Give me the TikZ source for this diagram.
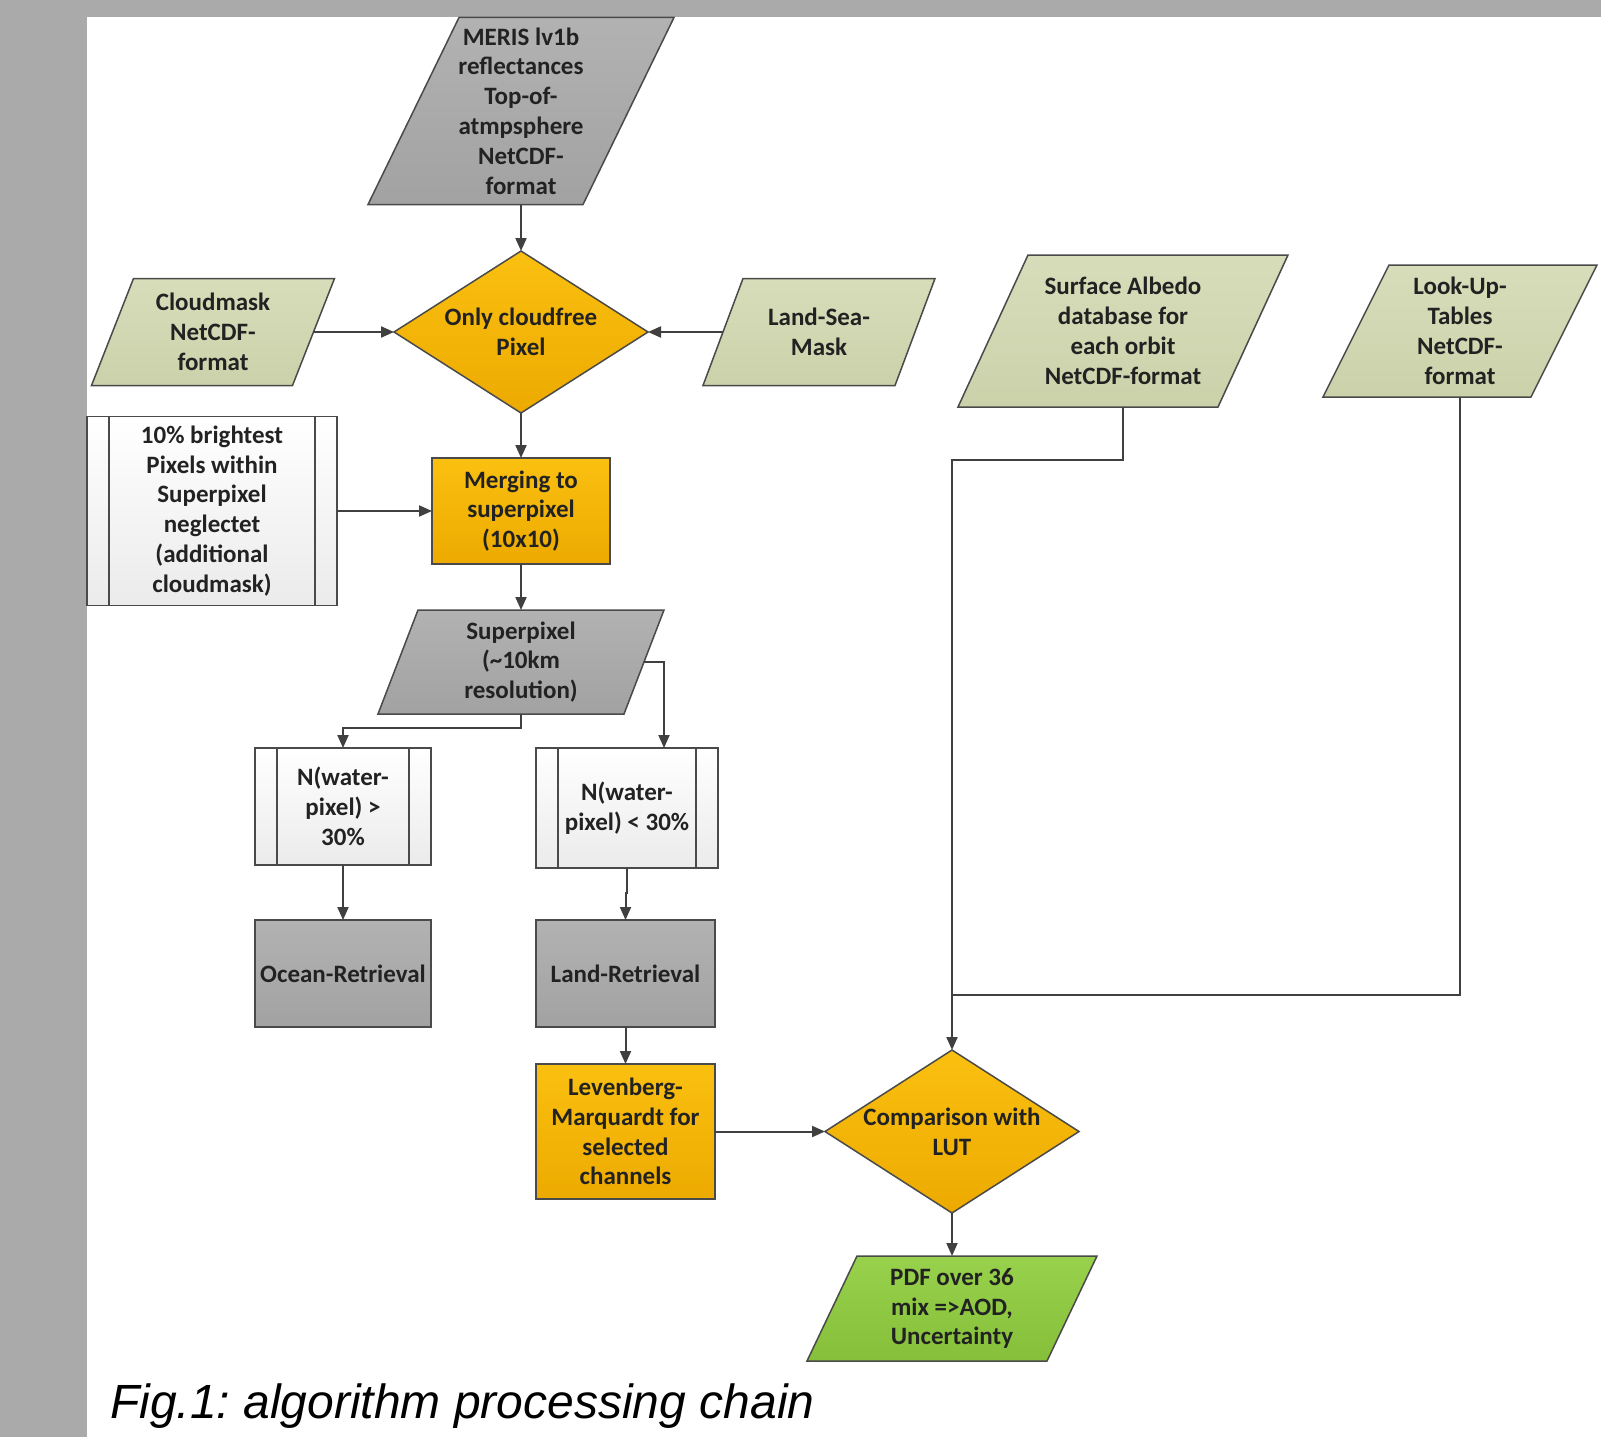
\documentclass[tikz,border=0pt]{standalone}
\usepackage{fontspec}
\setmainfont{Carlito}
\newfontfamily\capfont{Liberation Sans}
\usetikzlibrary{arrows.meta}
\frenchspacing
\pgfdeclarelayer{panel}
\pgfdeclarelayer{shapes}
\pgfsetlayers{panel,shapes,main}
\definecolor{bggray}{HTML}{AAAAAA}
\definecolor{lineg}{HTML}{404040}
\definecolor{edgeg}{HTML}{4A4A4A}
\definecolor{txtc}{HTML}{222222}
\definecolor{grayT}{HTML}{B2B2B2}
\definecolor{grayB}{HTML}{A2A2A2}
\definecolor{oliveT}{HTML}{D7DDBA}
\definecolor{oliveB}{HTML}{CBD2AA}
\definecolor{orangeT}{HTML}{FAC010}
\definecolor{orangeB}{HTML}{EDAA00}
\definecolor{greenT}{HTML}{98D14C}
\definecolor{greenB}{HTML}{86C03A}
\definecolor{whiteB}{HTML}{EBEBEB}
\tikzset{
  lbl/.style={font=\bfseries\fontsize{25}{29.8}\selectfont, text=txtc, align=center, inner sep=0pt, outer sep=0pt},
  sz/.style 2 args={minimum width=#1pt, minimum height=#2pt},
  bord/.style={draw=edgeg, line width=1.5pt},
  grayfill/.style={top color=grayT, bottom color=grayB},
  olivefill/.style={top color=oliveT, bottom color=oliveB},
  orangefill/.style={top color=orangeT, bottom color=orangeB},
  greenfill/.style={top color=greenT, bottom color=greenB},
  whitefill/.style={top color=white, bottom color=whiteB},
  rectbox/.style={bord},
  conn/.style={draw=lineg, line width=2pt, -{Triangle[length=13pt,width=11pt]}},
  plainconn/.style={draw=lineg, line width=2pt},
}
\newcommand\paragram[3]{\path[#3] ([xshift=-#2pt]#1.south west) -- ([xshift=-#2pt]#1.south east) -- ([xshift=#2pt]#1.north east) -- ([xshift=#2pt]#1.north west) -- cycle;}
\newcommand\diamondshape[2]{\path[#2] (#1.north) -- (#1.east) -- (#1.south) -- (#1.west) -- cycle;}
\newcommand\predef[2]{\path[#2] (#1.south west) rectangle (#1.north east);
  \draw[bord] ([xshift=22pt]#1.south west) -- ([xshift=22pt]#1.north west);
  \draw[bord] ([xshift=-22pt]#1.south east) -- ([xshift=-22pt]#1.north east);}
\begin{document}
\begin{tikzpicture}[x=1pt,y=-1pt]
\begin{pgfonlayer}{panel}
\fill[bggray] (0,0) rectangle (1601,1437);
\fill[white] (87,17) rectangle (1601,1437);
\end{pgfonlayer}
\useasboundingbox (0,0) rectangle (1601,1437);

% nodes
\node[lbl, sz={215}{187}] (meris) at (521,111) {MERIS lv1b\\reflectances\\Top-of-\\atmpsphere\\NetCDF-\\format};
\node[lbl, sz={254}{162}] (only) at (521,332) {Only cloudfree\\Pixel};
\node[lbl, sz={201}{107}] (cloud) at (213,332) {Cloudmask\\NetCDF-\\format};
\node[lbl, sz={192}{107}] (landsea) at (819,332) {Land-Sea-\\Mask};
\node[lbl, sz={260}{152}] (albedo) at (1123,331) {Surface Albedo\\database for\\each orbit\\NetCDF-format};
\node[lbl, sz={208}{132}] (lut) at (1460,331) {Look-Up-\\Tables\\NetCDF-\\format};
\node[lbl, sz={250}{189}] (bright) at (212,511) {10\% brightest\\Pixels within\\Superpixel\\neglectet\\(additional\\cloudmask)};
\node[lbl, rectbox, orangefill, sz={178}{106}] (merge) at (521,511) {Merging to\\superpixel\\(10x10)};
\node[lbl, sz={246}{104}] (super) at (521,662) {Superpixel\\(\textasciitilde10km\\resolution)};
\node[lbl, sz={176}{117}] (nmore) at (343,806.5) {N(water-\\pixel) >\\30\%};
\node[lbl, sz={182}{120}] (nless) at (627,808) {N(water-\\pixel) < 30\%};
\node[lbl, rectbox, grayfill, sz={176}{107}] (ocean) at (343,973.5) {Ocean-Retrieval};
\node[lbl, rectbox, grayfill, sz={179}{107}] (land) at (625.5,973.5) {Land-Retrieval};
\node[lbl, rectbox, orangefill, sz={179}{135}] (lev) at (625.5,1131.5) {Levenberg-\\Marquardt for\\selected\\channels};
\node[lbl, sz={254}{163}] (comp) at (952,1131.5) {Comparison with\\LUT};
\node[lbl, sz={240}{105}] (pdf) at (952,1308.5) {PDF over 36\\mix =>AOD,\\Uncertainty};
\node[anchor=base west, inner sep=0pt, font=\capfont\itshape\fontsize{48}{56}\selectfont, text=black] (cap) at (110,1418) {Fig.1: algorithm processing chain};

% shapes behind the texts
\begin{pgfonlayer}{shapes}
\paragram{meris}{45.5}{bord, grayfill}
\paragram{cloud}{21}{bord, olivefill}
\paragram{landsea}{20}{bord, olivefill}
\paragram{albedo}{35}{bord, olivefill}
\paragram{lut}{33}{bord, olivefill}
\paragram{super}{20}{bord, grayfill}
\paragram{pdf}{25}{bord, greenfill}
\diamondshape{only}{bord, orangefill}
\diamondshape{comp}{bord, orangefill}
\predef{bright}{bord, whitefill}
\predef{nmore}{bord, whitefill}
\predef{nless}{bord, whitefill}
\end{pgfonlayer}

% connectors
\draw[conn] (meris.south) -- (only.north);
\draw[conn] (cloud.east) -- (only.west);
\draw[conn] (landsea.west) -- (only.east);
\draw[conn] (only.south) -- (merge.north);
\draw[conn] (bright.east) -- (merge.west);
\draw[conn] (merge.south) -- (super.north);
\draw[conn] (super.south) -- ++(0,14) -| (nmore.north);
\draw[conn] (super.east) -| ([xshift=37pt]nless.north);
\draw[conn] (nmore.south) -- (ocean.north);
\draw[conn] (nless.south) -- ++(0,25) -| (land.north);
\draw[conn] (land.south) -- (lev.north);
\draw[conn] (lev.east) -- (comp.west);
\draw[conn] (albedo.south) -- ++(0,53) -| (comp.north);
\draw[plainconn] (lut.south) |- ([yshift=55pt]comp.north);
\draw[conn] (comp.south) -- (pdf.north);
\end{tikzpicture}
\end{document}
